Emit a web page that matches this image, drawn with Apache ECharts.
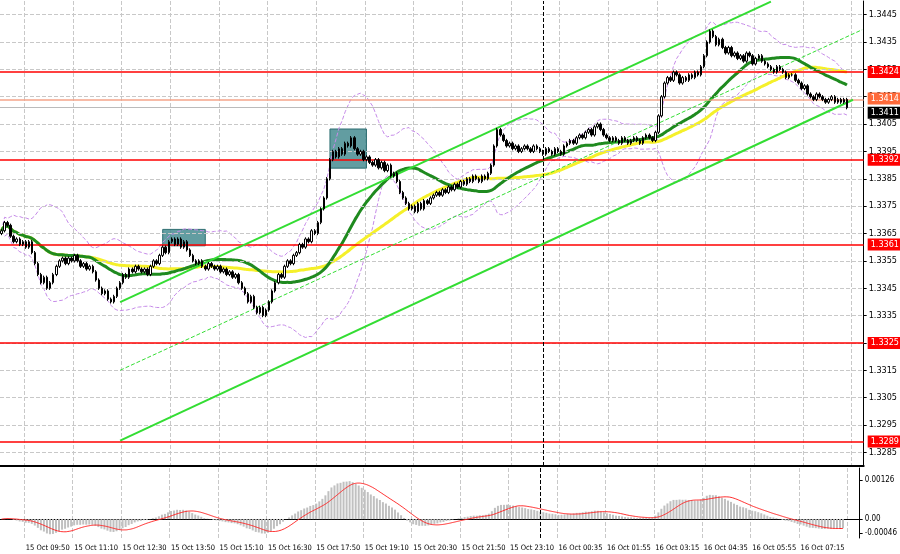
<!DOCTYPE html>
<html>
<head>
<meta charset="utf-8">
<script src="https://cdn.jsdelivr.net/npm/echarts@6/dist/echarts.min.js"></script>
<style>html,body{margin:0;padding:0;background:#fff}#chart{width:900px;height:554px}</style>
</head>
<body>
<div id="chart"></div>
<script>
// closes in pips above 1.3300, one per 5-minute bar
var closePips = [
  66,69,68,64,62,63,61,62,60,62, 58,54,50,47,49,45,47,50,53,55,
  56,54,56,55,57,55,53,54,52,53, 51,48,45,43,44,41,40,42,45,47,
  50,49,52,51,53,52,51,52,50,53, 55,54,57,60,58,62,63,61,63,60,
  62,59,57,55,54,55,53,52,54,53, 52,53,51,52,50,51,49,50,47,45,
  43,40,42,38,36,38,35,37,40,44, 47,50,49,53,55,54,57,58,61,60,
  63,62,66,65,69,74,78,85,92,95, 93,96,94,98,97,100,96,94,95,92,
  93,91,90,92,89,91,88,90,86,87, 84,80,78,76,74,75,73,76,74,77,
  76,78,79,80,79,81,80,82,81,83, 82,84,83,85,84,86,85,84,86,85,
  87,90,97,103,101,99,97,98,96,97, 95,96,97,96,95,97,96,95,94,96,
  95,94,96,95,94,97,98,99,98,100, 101,100,102,103,101,104,105,103,101,100,
  99,100,99,98,100,99,98,99,100,99, 98,100,101,100,99,102,108,115,120,122,
  121,124,123,120,122,121,123,122,124,123, 126,130,135,139,137,134,136,133,131,133,
  130,131,129,130,128,131,130,127,129,130, 128,127,126,125,124,126,125,124,122,123,
  123,121,120,118,119,116,115,114,116,115, 114,113,114,115,113,114,113,114,111
];
var firstOpenPips = 65;
var tickLabels = ['15 Oct 09:50','15 Oct 11:10','15 Oct 12:30','15 Oct 13:50','15 Oct 15:10',
  '15 Oct 16:30','15 Oct 17:50','15 Oct 19:10','15 Oct 20:30','15 Oct 21:50','15 Oct 23:10',
  '16 Oct 00:35','16 Oct 01:55','16 Oct 03:15','16 Oct 04:35','16 Oct 05:55','16 Oct 07:15'];
var priceTicks = [1.3285,1.3295,1.3305,1.3315,1.3325,1.3335,1.3345,1.3355,1.3365,1.3375,
  1.3385,1.3395,1.3405,1.3415,1.3425,1.3435,1.3445];
var levels = [1.3424, 1.3392, 1.3361, 1.3325, 1.3289];
var bidLine = 1.3414, lastPrice = 1.3411;
var macdTicks = [-0.00046, 0, 0.00126];

var N = 284, firstTick = 8, tickStep = 16;
var cats = [];
for (var i = 0; i < N; i++) cats.push(String(i));

var closes = closePips.map(function (p) { return +(1.33 + p / 10000).toFixed(5); });
var ohlc = closes.map(function (c, i) {
  var o = i ? closes[i - 1] : 1.33 + firstOpenPips / 10000;
  return [o, c, Math.min(o, c) - 0.00006, Math.max(o, c) + 0.00006];
});

function sma(arr, n) {
  return arr.map(function (v, i) {
    var s = 0, k = 0;
    for (var j = Math.max(0, i - n + 1); j <= i; j++) { s += arr[j]; k++; }
    return s / k;
  });
}
function ema(arr, n) {
  var a = 2 / (n + 1), out = [], prev = arr[0];
  arr.forEach(function (v) { prev = prev + a * (v - prev); out.push(prev); });
  return out;
}
var maFast = sma(closes, 30), maSlow = sma(closes, 50);
var bbMid = sma(closes, 20);
var bbUp = [], bbDn = [];
closes.forEach(function (c, i) {
  var s = 0, k = 0;
  for (var j = Math.max(0, i - 19); j <= i; j++) { s += Math.pow(closes[j] - bbMid[i], 2); k++; }
  var sd = Math.sqrt(s / k);
  bbUp.push(bbMid[i] + 2.3 * sd); bbDn.push(bbMid[i] - 2.3 * sd);
});
var e12 = ema(closes, 12), e26 = ema(closes, 26);
var macd = e12.map(function (v, i) { return v - e26[i]; });
var signal = sma(macd, 9);

function isTick(i) { return i >= firstTick && (i - firstTick) % tickStep === 0; }

var levelLines = levels.map(function (v) {
  return { yAxis: v, lineStyle: { color: '#ff0000', width: 1.5, type: 'solid' },
    label: { backgroundColor: '#ff0000', color: '#fff' } };
});
levelLines.push({ yAxis: bidLine, lineStyle: { color: '#f4a58a', width: 1.5, type: 'solid' },
  label: { backgroundColor: '#ff6a3a', color: '#fff', offset: [0, -1] } });
levelLines.push({ yAxis: lastPrice, lineStyle: { color: '#bbbbbb', width: 1, type: 'solid' },
  label: { backgroundColor: '#000', color: '#fff', offset: [0, 5] } });
levelLines.push({ xAxis: 178, lineStyle: { color: '#000', width: 1, type: 'dashed' }, label: { show: false } });

var chLine = { color: '#33dd33', width: 2, type: 'solid' };
levelLines.push([{ coord: [39, 1.33399], lineStyle: chLine, label: { show: false } }, { coord: [253, 1.34498] }]);
levelLines.push([{ coord: [39, 1.32893], lineStyle: chLine, label: { show: false } }, { coord: [280, 1.34139] }]);
levelLines.push([{ coord: [39, 1.3315], lineStyle: { color: '#33dd33', width: 1, type: 'dashed' }, label: { show: false } }, { coord: [283, 1.34395] }]);

var gridLines = priceTicks.map(function (v) {
  return { yAxis: v, lineStyle: { color: '#c8c8c8', type: 'dashed', width: 1 }, label: { show: false } };
});

var bbStyle = { color: '#c58ae8', width: 1, type: 'dashed' };
var font = 'DejaVu Sans Condensed, DejaVu Sans';
var myChart = echarts.init(document.getElementById('chart'));
var option = {
  animation: false,
  grid: [
    { left: 0, right: 32, top: 1, bottom: 88 },
    { left: 0, right: 32, top: 468, bottom: 16 }
  ],
  xAxis: [
    { type: 'category', data: cats, gridIndex: 0, boundaryGap: true,
      axisLine: { show: true, lineStyle: { color: '#000', width: 2 } }, axisTick: { show: false }, axisLabel: { show: false },
      splitLine: { show: true, interval: function (i) { return isTick(i); }, lineStyle: { color: '#c8c8c8', type: 'dashed' } } },
    { type: 'category', data: cats, gridIndex: 1, boundaryGap: true,
      axisLine: { show: true, lineStyle: { color: '#000' } }, axisTick: { show: false },
      axisLabel: { interval: function (i) { return isTick(i); }, align: 'left', margin: 6, hideOverlap: false,
        fontSize: 7.5, color: '#000', fontFamily: font,
        formatter: function (v) { return tickLabels[(+v - firstTick) / tickStep] || ''; } },
      splitLine: { show: true, interval: function (i) { return isTick(i); }, lineStyle: { color: '#c8c8c8', type: 'dashed' } } }
  ],
  yAxis: [
    { type: 'value', gridIndex: 0, position: 'right', min: 1.3280, max: 1.3450, scale: true,
      axisLine: { show: true, lineStyle: { color: '#000' } }, splitLine: { show: false },
      axisTick: { show: true, customValues: priceTicks, length: 3 },
      axisLabel: { customValues: priceTicks, fontSize: 9, color: '#000', margin: 5,
        fontFamily: font, formatter: function (v) { return v.toFixed(4); } } },
    { type: 'value', gridIndex: 1, position: 'right', min: -0.00061, max: 0.00165,
      axisLine: { show: true, lineStyle: { color: '#000' } }, splitLine: { show: false },
      axisTick: { show: true, customValues: macdTicks, length: 3 },
      axisLabel: { customValues: macdTicks, fontSize: 8, color: '#000', margin: 5, fontFamily: font,
        formatter: function (v) { return v === 0 ? '0.00' : v.toFixed(5); } } }
  ],
  series: [
    { type: 'line', data: [], xAxisIndex: 0, yAxisIndex: 0, silent: true,
      markLine: { symbol: 'none', silent: true, precision: 5, data: gridLines } },
    { name: 'bbUp', type: 'line', data: bbUp, showSymbol: false, lineStyle: bbStyle, z: 2 },
    { name: 'bbDn', type: 'line', data: bbDn, showSymbol: false, lineStyle: bbStyle, z: 2 },
    { name: 'maSlow', type: 'line', data: maSlow, showSymbol: false, smooth: true, lineStyle: { color: '#f5f02a', width: 3 }, z: 3 },
    { name: 'maFast', type: 'line', data: maFast, showSymbol: false, smooth: true, lineStyle: { color: '#1f8a1f', width: 3 }, z: 4 },
    { name: 'price', type: 'candlestick', data: ohlc, barWidth: 2, z: 5,
      itemStyle: { color: '#ffffff', color0: '#000000', borderColor: '#000000', borderColor0: '#000000', borderWidth: 1 },
      markArea: { silent: true, itemStyle: { color: 'rgba(70,140,145,0.85)', borderColor: '#2e6e72', borderWidth: 1 },
        data: [[{ coord: [53, 1.33665] }, { coord: [67, 1.33605] }],
               [{ coord: [108, 1.34032] }, { coord: [120, 1.33889] }]] },
      markLine: { symbol: 'none', silent: true, precision: 5,
        label: { position: 'end', fontSize: 9, padding: [2, 3, 1, 3], distance: 4, fontFamily: font,
          formatter: function (p) { return (+p.value).toFixed(4); } },
        data: levelLines } },
    { name: 'macd', type: 'bar', data: macd, xAxisIndex: 1, yAxisIndex: 1, barWidth: 2,
      itemStyle: { color: '#c0c0c0' },
      markLine: { symbol: 'none', silent: true, label: { show: false },
        data: [{ xAxis: 178, lineStyle: { color: '#000', type: 'dashed', width: 1 } }] } },
    { name: 'signal', type: 'line', data: signal, xAxisIndex: 1, yAxisIndex: 1, showSymbol: false, smooth: true,
      lineStyle: { color: '#ff2020', width: 1 } }
  ]
};
myChart.setOption(option);
</script>
</body>
</html>
